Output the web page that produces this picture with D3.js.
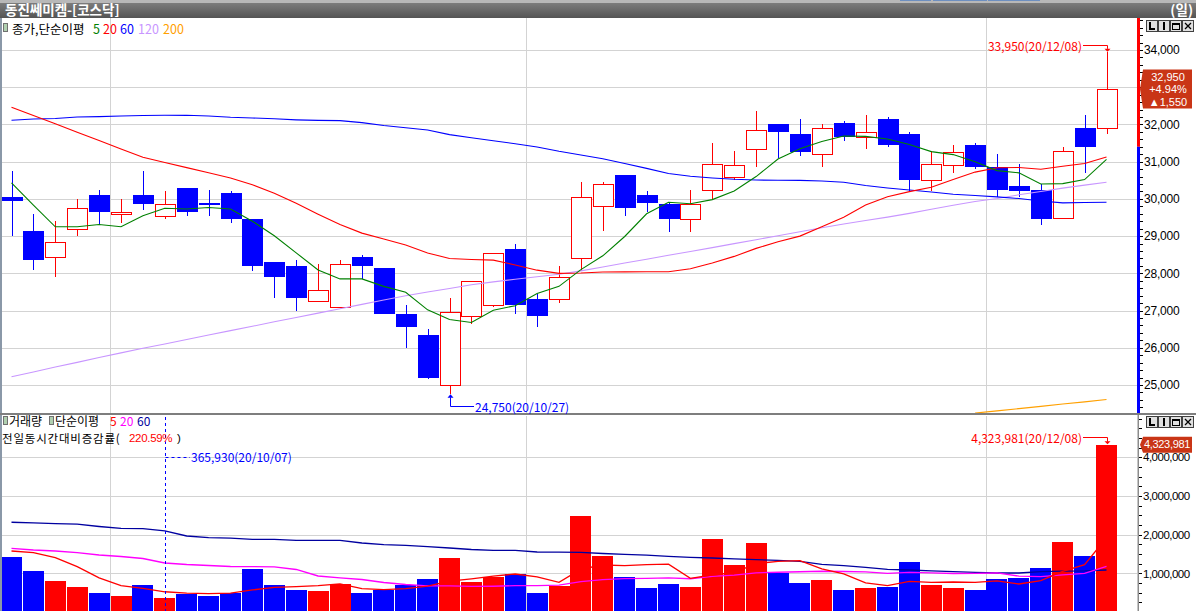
<!DOCTYPE html>
<html><head><meta charset="utf-8">
<script src="https://cdn.jsdelivr.net/npm/d3@7/dist/d3.min.js"></script>
<style>
html,body{margin:0;padding:0;background:#fff;overflow:hidden}
svg{display:block}
text{font-family:"Noto Sans CJK KR","Noto Sans",sans-serif;font-size:12px}
.num{font-family:"Liberation Sans",Arial,sans-serif}
</style></head><body>
<svg id="chart" width="1196" height="611"></svg>
<script>
// ---------------- DATA ----------------
const dates=["2020-09-23","2020-09-24","2020-09-25","2020-09-28","2020-09-29","2020-10-05","2020-10-06","2020-10-07","2020-10-08","2020-10-12","2020-10-13","2020-10-14","2020-10-15","2020-10-16","2020-10-19","2020-10-20","2020-10-21","2020-10-22","2020-10-23","2020-10-26","2020-10-27","2020-10-28","2020-10-29","2020-10-30","2020-11-02","2020-11-03","2020-11-04","2020-11-05","2020-11-06","2020-11-09","2020-11-10","2020-11-11","2020-11-12","2020-11-13","2020-11-16","2020-11-17","2020-11-18","2020-11-19","2020-11-20","2020-11-23","2020-11-24","2020-11-25","2020-11-26","2020-11-27","2020-11-30","2020-12-01","2020-12-02","2020-12-03","2020-12-04","2020-12-07","2020-12-08"];
const open=[30050,29150,28450,29200,30100,29600,30100,29550,30300,29900,30150,29450,28300,28200,27250,27100,28450,28150,26900,26350,25000,26850,27150,28650,27300,27300,28400,29800,30650,30100,29850,29450,30250,30600,31350,32000,31750,31200,32050,31650,32150,31750,30500,30900,31450,30850,30350,30250,29500,31900,31900];
const high=[30750,29600,29400,30000,30250,30000,30750,30200,30300,30250,30200,29450,28300,28350,28250,28350,28500,28150,27150,26500,27350,27800,28550,28800,27450,28200,30450,30450,30650,30200,29900,30250,31500,31300,32350,32000,32150,32000,32100,32250,32200,31800,31300,31450,31500,31200,30950,30400,31400,32250,33950];
const low=[29000,28100,27900,29000,29300,29350,29700,29450,29550,29550,29350,28050,27350,27000,27250,27100,27850,26900,26000,25150,24750,26650,27100,26900,26550,27200,28050,29150,29550,29650,29100,29100,30000,30500,30850,31100,31150,30850,31550,31350,31400,30200,30200,30700,30800,30050,30050,29300,29450,30700,31750];
const close=[29950,28350,28850,29750,29650,29650,29850,29850,29650,29850,29450,28200,27900,27350,27550,28250,28200,26900,26550,25200,26950,27800,28550,27150,26850,27900,30050,30400,29750,29900,29450,29850,30950,30900,31850,31800,31250,31900,31650,31800,31450,30500,30950,31250,30850,30250,30200,29450,31300,31400,32950];
const ma5=[30430,29830,29250,29250,29310,29250,29550,29750,29730,29770,29730,29400,29010,28550,28090,27850,27850,27650,27490,27020,26760,26680,27010,27130,27460,27650,28100,28470,28990,29600,29910,29870,29980,30210,30600,31070,31350,31540,31690,31680,31610,31460,31270,31190,31000,30760,30700,30400,30410,30520,31060];
const ma20=[32460,32240,32020,31790,31570,31340,31120,30980,30840,30700,30560,30380,30150,29880,29590,29310,29080,28920,28760,28548,28398,28370,28355,28225,28085,27998,28008,28035,28040,28043,28043,28125,28278,28455,28670,28848,29000,29250,29505,29835,30060,30195,30315,30520,30720,30838,30845,30798,30875,30950,31125];
const ma60=[32111,32146,32159,32200,32210,32227,32240,32245,32245,32227,32192,32173,32151,32124,32108,32103,32049,31971,31910,31850,31727,31641,31560,31482,31396,31278,31179,31077,30953,30819,30684,30609,30561,30526,30507,30501,30498,30479,30445,30359,30292,30238,30184,30125,30090,30055,30010,29943,29894,29902,29908];
const ma120=[25222,25348,25482,25608,25740,25864,25985,26100,26221,26342,26460,26578,26697,26812,26930,27049,27167,27282,27398,27497,27594,27694,27771,27839,27909,27976,28067,28172,28277,28379,28486,28586,28690,28798,28903,29008,29118,29225,29325,29420,29510,29610,29720,29830,29929,30010,30110,30200,30290,30370,30445];
const ma200=[null,null,null,null,null,null,null,null,null,null,null,null,null,null,null,null,null,null,null,null,null,null,null,null,null,null,null,null,null,null,null,null,null,null,null,null,null,null,null,null,null,null,null,null,24245,24305,24366,24426,24488,24547,24609];
const volume=[1422000,1060000,802000,646000,491000,414000,698000,365930,473000,414000,484000,1112000,698000,569000,543000,724000,491000,569000,698000,853000,1396000,776000,905000,983000,491000,672000,2483000,1448000,905000,621000,724000,646000,1888000,1215000,1784000,1009000,750000,828000,569000,621000,646000,1293000,698000,621000,569000,853000,879000,1138000,1810000,1448000,4323981];
const vma5=[1577000,1533000,1404000,1171000,884000,683000,610000,523000,488000,473000,487000,570000,636000,655000,681000,729000,605000,579000,605000,667000,801000,858000,926000,983000,910000,765000,1107000,1215000,1200000,1226000,1236000,869000,957000,1019000,1251000,1308000,1329000,1117000,988000,755000,683000,791000,765000,776000,765000,807000,724000,812000,1050000,1226000,1920000];
const vma20=[1647000,1603000,1577000,1533000,1474000,1435000,1383000,1267000,1228000,1202000,1177000,1171000,1169000,1099000,931000,884000,840000,763000,711000,676000,675000,661000,666000,683000,683000,696000,785000,839000,861000,871000,883000,860000,919000,952000,1014000,1028000,1041000,1054000,1047000,1036000,998000,1024000,1014000,996000,1000000,1009000,928000,913000,958000,999000,1179000];
const vma60=[2320000,2302000,2283000,2271000,2211000,2162000,2157000,2100000,1965000,1924000,1908000,1880000,1880000,1854000,1854000,1854000,1784000,1743000,1725000,1691000,1655000,1616000,1596000,1596000,1552000,1546000,1544000,1513000,1492000,1469000,1440000,1415000,1396000,1376000,1352000,1337000,1311000,1234000,1200000,1156000,1104000,1086000,1065000,1042000,1027000,1009000,1009000,1042000,1058000,1065000,1086000];
const priceTicks=[25000,26000,27000,28000,29000,30000,31000,32000,33000,34000];
const volTicks=[1000000,2000000,3000000,4000000];
const prevClose=31400;
const maxInfo={price:33950,date:"20/12/08",idx:50};
const minInfo={price:24750,date:"20/10/27",idx:20};
const vMinInfo={vol:365930,date:"20/10/07",idx:7};
const vMaxInfo={vol:4323981,date:"20/12/08",idx:50};
const volRate="220.59%";
const title="동진쎄미켐-[코스닥]";

// ---------------- LAYOUT ----------------
const svg=d3.select('#chart');
const PT=18,PB=413,VT=415,VB=611,AXX=1137;
const RED='#ff0000',BLUE='#0000ff';
const x=d3.scalePoint().domain(dates).range([11.5,1106.5]);
const yP=d3.scaleLinear().domain([25000,34000]).range([385,50]);
const yV=d3.scaleLinear().domain([0,4000000]).range([612,457.3]);
const fmt=d3.format(',');

const defs=svg.append('defs');
const tg=defs.append('linearGradient').attr('id','tg').attr('x1',0).attr('y1',0).attr('x2',0).attr('y2',1);
tg.append('stop').attr('offset','0').attr('stop-color','#7c7c7c');
tg.append('stop').attr('offset','1').attr('stop-color','#545454');
defs.append('clipPath').attr('id','cp').append('rect').attr('x',2).attr('y',PT).attr('width',AXX-2).attr('height',PB-PT);
defs.append('clipPath').attr('id','cv').append('rect').attr('x',2).attr('y',VT+1).attr('width',AXX-2).attr('height',VB-VT);

// title bar
svg.append('rect').attr('x',0).attr('y',0).attr('width',1196).attr('height',3).attr('fill','#b8b8b8');
[[900,31],[933,54],[988,52]].forEach(([a,w])=>svg.append('rect').attr('x',a).attr('y',0).attr('width',w).attr('height',1).attr('fill','#6d8fc0'));
svg.append('rect').attr('x',0).attr('y',3).attr('width',1196).attr('height',15).attr('fill','url(#tg)');
svg.append('text').attr('x',5).attr('y',14.5).attr('fill','#fff').style('font-size','13.5px').style('font-weight','bold').text(title);
svg.append('text').attr('x',1193).attr('y',14.5).attr('text-anchor','end').attr('fill','#fff').style('font-size','13.5px').style('font-weight','bold').text('(일)');

// left border
svg.append('rect').attr('x',0).attr('y',PT).attr('width',2).attr('height',VB-PT).attr('fill','#8a98a8');

// month breaks
const breaks=dates.map((d,i)=>(i>0&&d.slice(5,7)!==dates[i-1].slice(5,7))?i:-1).filter(i=>i>0);
const bx=i=>Math.round((x(dates[i-1])+x(dates[i]))/2)+0.5;

// price grid
const gp=svg.append('g').attr('stroke','#d3d3d3').attr('shape-rendering','crispEdges');
gp.selectAll('line.h').data(priceTicks).join('line').attr('x1',2).attr('x2',AXX).attr('y1',d=>Math.round(yP(d))+0.5).attr('y2',d=>Math.round(yP(d))+0.5);
gp.selectAll('line.v').data(breaks).join('line').attr('x1',bx).attr('x2',bx).attr('y1',PT).attr('y2',PB);

// volume grid
const gv=svg.append('g').attr('stroke','#d3d3d3').attr('shape-rendering','crispEdges');
gv.selectAll('line.h').data(volTicks).join('line').attr('x1',2).attr('x2',AXX).attr('y1',d=>Math.round(yV(d))+0.5).attr('y2',d=>Math.round(yV(d))+0.5);
gv.selectAll('line.v').data(breaks).join('line').attr('x1',bx).attr('x2',bx).attr('y1',VT+1).attr('y2',VB);

// candles
const cg=svg.append('g').attr('clip-path','url(#cp)').attr('shape-rendering','crispEdges');
const idx=d3.range(dates.length);
const up=i=>close[i]>=open[i];
cg.selectAll('line.w').data(idx).join('line')
  .attr('x1',i=>Math.round(x(dates[i]))+0.5).attr('x2',i=>Math.round(x(dates[i]))+0.5)
  .attr('y1',i=>yP(high[i])).attr('y2',i=>yP(low[i]))
  .attr('stroke',i=>up(i)?RED:BLUE).attr('stroke-width',1);
cg.selectAll('rect.b').data(idx).join('rect')
  .attr('x',i=>up(i)?Math.round(x(dates[i]))-9.5:Math.round(x(dates[i]))-10)
  .attr('width',i=>up(i)?20:21)
  .attr('y',i=>Math.round(yP(Math.max(open[i],close[i])))+(up(i)?0.5:0))
  .attr('height',i=>Math.max(up(i)?1:2,Math.round(yP(Math.min(open[i],close[i])))-Math.round(yP(Math.max(open[i],close[i])))))
  .attr('fill',i=>up(i)?'#fff':BLUE)
  .attr('stroke',i=>up(i)?RED:'none').attr('stroke-width',1.4);

// price MA lines
const mg=svg.append('g').attr('clip-path','url(#cp)').attr('fill','none');
const lineP=d3.line().defined(d=>d!=null).x((d,i)=>x(dates[i])).y(d=>yP(d));
[[ma200,'#ffa000'],[ma120,'#c896ff'],[ma60,BLUE],[ma20,RED],[ma5,'#008000']].forEach(([s,c])=>{
  mg.append('path').datum(s).attr('d',lineP).attr('stroke',c).attr('stroke-width',1.1);
});

// volume bars
const vg=svg.append('g').attr('clip-path','url(#cv)').attr('shape-rendering','crispEdges');
vg.selectAll('rect').data(idx).join('rect')
  .attr('x',i=>Math.round(x(dates[i])-10.5)).attr('width',21)
  .attr('y',i=>Math.round(yV(volume[i]))).attr('height',i=>VB+1-Math.round(yV(volume[i])))
  .attr('fill',i=>up(i)?RED:BLUE);
const lineV=d3.line().x((d,i)=>x(dates[i])).y(d=>yV(d));
const vmg=svg.append('g').attr('clip-path','url(#cv)').attr('fill','none');
[[vma60,'#0000a0'],[vma20,'#ff00ff'],[vma5,RED]].forEach(([s,c])=>{
  vmg.append('path').datum(s).attr('d',lineV).attr('stroke',c).attr('stroke-width',1.3);
});

// panel separator
svg.append('rect').attr('x',0).attr('y',PB).attr('width',1196).attr('height',2).attr('fill','#7e7e7e');

// price axis line (red above prev close, blue below)
const yPrev=yP(prevClose);
svg.append('rect').attr('x',AXX).attr('y',PT).attr('width',3).attr('height',yPrev-PT).attr('fill',RED);
svg.append('rect').attr('x',AXX).attr('y',yPrev).attr('width',3).attr('height',PB-yPrev).attr('fill',BLUE);
// volume axis line
svg.append('rect').attr('x',AXX+0.5).attr('y',VT).attr('width',1.5).attr('height',VB-VT).attr('fill','#8c8c8c');

// price axis
const minorP=d3.range(24400,35000,200);
const axMinorP=svg.append('g').attr('transform',`translate(${AXX+3},0)`).call(d3.axisRight(yP).tickValues(minorP).tickSize(3).tickFormat(''));
axMinorP.select('.domain').remove();
const axP=svg.append('g').attr('transform',`translate(${AXX+3},0)`).call(d3.axisRight(yP).tickValues(priceTicks).tickSize(3).tickPadding(1).tickFormat(fmt));
axP.select('.domain').remove();
axP.selectAll('text').attr('class','num').attr('fill','#000').style('font-size','12px').style('letter-spacing','-0.2px');
axP.selectAll('.tick').filter(d=>d===33000).select('text').remove();

// volume axis
const minorV=d3.range(0,5250000,250000);
const axMinorV=svg.append('g').attr('transform',`translate(${AXX+2},0)`).call(d3.axisRight(yV).tickValues(minorV.filter(v=>yV(v)>VT+2&&yV(v)<VB)).tickSize(3).tickFormat(''));
axMinorV.select('.domain').remove();
const axV=svg.append('g').attr('transform',`translate(${AXX+2},0)`).call(d3.axisRight(yV).tickValues(volTicks).tickSize(3).tickPadding(1).tickFormat(fmt));
axV.select('.domain').remove();
axV.selectAll('text').attr('class','num').attr('fill','#000').style('font-size','11.5px').style('letter-spacing','-0.5px');
svg.selectAll('.tick line').attr('stroke','#000').attr('shape-rendering','crispEdges');

// current price box
const yC=yP(close[50]);
svg.append('path').attr('d',`M${AXX+3},${yC} L${AXX+6},${yC-19.5} H1192 V${yC+19.5} H${AXX+6} Z`).attr('fill','#c93516');
const chg=close[50]-close[49];
const pct=(chg/close[49]*100).toFixed(2);
[[fmt(close[50]),-12.5],[`+${pct}%`,0],[`▲${fmt(chg)}`,12.5]].forEach(([t,dy])=>{
  svg.append('text').attr('class','num').attr('x',1168).attr('y',yC+dy).attr('text-anchor','middle').attr('dominant-baseline','central').attr('fill','#fff').style('font-size','11px').text(t);
});
// current volume box
const yCV=yV(volume[50]);
svg.append('path').attr('d',`M${AXX+3},${yCV} L${AXX+6},${yCV-8} H1192 V${yCV+8} H${AXX+6} Z`).attr('fill','#c93516');
svg.append('text').attr('class','num').attr('x',1167).attr('y',yCV-0.5).attr('text-anchor','middle').attr('dominant-baseline','central').attr('fill','#fff').style('font-size','11px').style('letter-spacing','-0.3px').text(fmt(volume[50]));

// max price marker
const mx=Math.round(x(dates[maxInfo.idx]))+0.5, myTop=yP(maxInfo.price);
svg.append('path').attr('d',`M1083,45.5 H${mx} V${myTop-3}`).attr('stroke',RED).attr('fill','none');
svg.append('path').attr('d',`M${mx-3},${myTop-3} H${mx+3} L${mx},${myTop} Z`).attr('fill',RED);
svg.append('text').attr('x',1082).attr('y',45).attr('text-anchor','end').attr('dominant-baseline','central').attr('fill',RED).text(`${fmt(maxInfo.price)}(${maxInfo.date})`);
// min price marker
const nx=Math.round(x(dates[minInfo.idx]))+0.5, nyB=yP(minInfo.price);
svg.append('path').attr('d',`M${nx},${nyB+3} V406.5 H474`).attr('stroke',BLUE).attr('fill','none');
svg.append('path').attr('d',`M${nx-3},${nyB+3.5} H${nx+3} L${nx},${nyB} Z`).attr('fill',BLUE);
svg.append('text').attr('x',475).attr('y',406).attr('dominant-baseline','central').attr('fill',BLUE).text(`${fmt(minInfo.price)}(${minInfo.date})`);
// min volume marker
const vx=Math.round(x(dates[vMinInfo.idx]))+0.5;
svg.append('line').attr('x1',vx).attr('x2',vx).attr('y1',VT+2).attr('y2',VB).attr('stroke',BLUE).attr('stroke-dasharray','3,3');
svg.append('line').attr('x1',vx).attr('x2',190).attr('y1',457.5).attr('y2',457.5).attr('stroke',BLUE).attr('stroke-dasharray','3,3');
svg.append('text').attr('x',191).attr('y',456).attr('dominant-baseline','central').attr('fill',BLUE).text(`${fmt(vMinInfo.vol)}(${vMinInfo.date})`);
// max volume marker
const wx=Math.round(x(dates[vMaxInfo.idx]))+0.5, wy=yV(vMaxInfo.vol);
svg.append('path').attr('d',`M1083,437.5 H${wx} V${wy-3}`).attr('stroke',RED).attr('fill','none');
svg.append('path').attr('d',`M${wx-3},${wy-3.5} H${wx+3} L${wx},${wy-0.5} Z`).attr('fill',RED);
svg.append('text').attr('x',1082).attr('y',437).attr('text-anchor','end').attr('dominant-baseline','central').attr('fill',RED).text(`${fmt(vMaxInfo.vol)}(${vMaxInfo.date})`);

// legends
function icon(x0,y0){
  svg.append('rect').attr('x',x0+0.5).attr('y',y0+0.5).attr('width',4).attr('height',8).attr('fill','#b0d0b0').attr('stroke','#707070');
}
icon(3,23);
const lg=svg.append('text').attr('x',12).attr('y',27.8).attr('dominant-baseline','central').style('font-size','12.5px');
lg.append('tspan').attr('fill','#000').text('종가,단순이평');
[['5','#008000',93],['20',RED,103],['60',BLUE,120],['120','#c896ff',138],['200','#ffa000',163]].forEach(([t,c,px])=>lg.append('tspan').attr('x',px).attr('fill',c).text(t));
icon(3,416); icon(49,416);
const lv=svg.append('text').attr('x',9).attr('y',420).attr('dominant-baseline','central').style('font-size','12px');
lv.append('tspan').attr('fill','#000').text('거래량');
lv.append('tspan').attr('x',55).attr('fill','#000').text('단순이평');
[['5',RED,110],['20','#ff00ff',120],['60','#0000a0',137]].forEach(([t,c,px])=>lv.append('tspan').attr('x',px).attr('fill',c).text(t));
svg.append('text').attr('x',2).attr('y',437.5).attr('dominant-baseline','central').style('font-size','11.5px').style('letter-spacing','0.8px').attr('fill','#000').text('전일동시간대비증감률(');
svg.append('text').attr('class','num').attr('x',129).attr('y',437.5).attr('dominant-baseline','central').style('font-size','11.5px').style('letter-spacing','-0.3px').attr('fill',RED).text(volRate);
svg.append('text').attr('class','num').attr('x',177).attr('y',437.5).attr('dominant-baseline','central').style('font-size','11.5px').attr('fill','#000').text(')');

// window buttons
function buttons(y0){
  const g=svg.append('g').attr('shape-rendering','crispEdges');
  [1146,1158,1170,1182].forEach((bx0,k)=>{
    g.append('rect').attr('x',bx0+0.5).attr('y',y0+0.5).attr('width',11).attr('height',11).attr('fill','#e0e0e0').attr('stroke','#404040');
    if(k===0) g.append('path').attr('d',`M${bx0+4},${y0+2} V${y0+9} H${bx0+9}`).attr('stroke','#000').attr('stroke-width',1.5).attr('fill','none');
    if(k===1) g.append('rect').attr('x',bx0+5).attr('y',y0+2).attr('width',2).attr('height',8).attr('fill','#000');
    if(k===2){g.append('rect').attr('x',bx0+2.5).attr('y',y0+3.5).attr('width',7).attr('height',6).attr('fill','none').attr('stroke','#000');g.append('rect').attr('x',bx0+2).attr('y',y0+3).attr('width',8).attr('height',2).attr('fill','#000');}
    if(k===3) g.append('path').attr('d',`M${bx0+3},${y0+3} L${bx0+9},${y0+9} M${bx0+9},${y0+3} L${bx0+3},${y0+9}`).attr('stroke','#000').attr('stroke-width',1.3).attr('shape-rendering','auto');
  });
}
buttons(20); buttons(416);
</script>
</body></html>
